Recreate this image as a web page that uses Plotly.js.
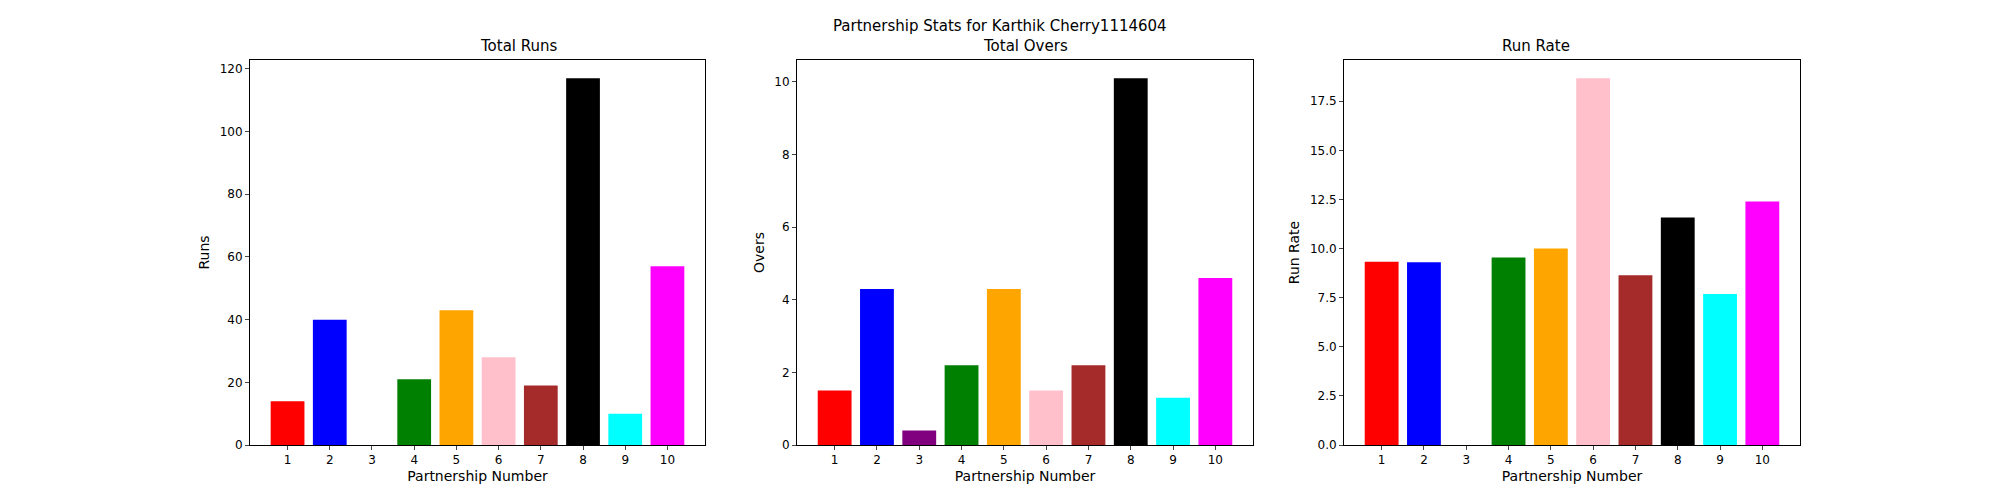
<!DOCTYPE html>
<html><head><script src="https://cdn.plot.ly/plotly-3.0.1.min.js"></script></head>
<body style="margin:0"><div id="c" style="width:2000px;height:500px"></div>
<script>
const partnerships=[1,2,3,4,5,6,7,8,9,10];
const runs=[14,40,0,21,43,28,19,117,10,57];
const overs=[1.5,4.3,0.4,2.2,4.3,1.5,2.2,10.1,1.3,4.6];
const runRate=runs.map((r,i)=>r/overs[i]);
const colors=['red','blue','purple','green','orange','pink','brown','black','cyan','magenta'];
const series=[runs,overs,runRate];
const titles=['Total Runs','Total Overs','Run Rate'];
const ylabels=['Runs','Overs','Run Rate'];
const doms=[[0.125,0.3525],[0.3985,0.6265],[0.672,0.9]];
const yt=[[0,20,40,60,80,100,120],[0,2,4,6,8,10],[0,2.5,5,7.5,10,12.5,15,17.5]];
const ytxt=[null,null,['0.0','2.5','5.0','7.5','10.0','12.5','15.0','17.5']];
const traces=[],layout={margin:{l:0,r:0,t:0,b:0},showlegend:false,paper_bgcolor:'white',plot_bgcolor:'white',
font:{family:'DejaVu Sans',size:12,color:'black'},bargap:0.2,annotations:[
{text:'Partnership Stats for Karthik Cherry1114604',x:0.5,y:0.97,xref:'paper',yref:'paper',showarrow:false,font:{size:15}}]};
series.forEach((s,i)=>{
 const n=i===0?'':String(i+1);
 traces.push({type:'bar',x:partnerships,y:s,marker:{color:colors},width:0.8,xaxis:'x'+n,yaxis:'y'+n});
 const ax={showline:true,mirror:true,linecolor:'black',ticks:'outside',ticklen:4,showgrid:false,zeroline:false};
 layout['xaxis'+n]=Object.assign({},ax,{domain:doms[i],range:[0.11,10.89],tickvals:partnerships,anchor:'y'+n,
  title:{text:'Partnership Number',standoff:4}});
 layout['yaxis'+n]=Object.assign({},ax,{domain:[0.11,0.88],range:[0,Math.max(...s)*1.05],anchor:'x'+n,
  tickvals:yt[i],ticktext:ytxt[i]||yt[i].map(String),title:{text:ylabels[i],standoff:6}});
 layout.annotations.push({text:titles[i],x:(doms[i][0]+doms[i][1])/2,y:0.885,xref:'paper',yref:'paper',yanchor:'bottom',showarrow:false,font:{size:15}});
});
Plotly.newPlot('c',traces,layout,{displayModeBar:false});
</script></body></html>
